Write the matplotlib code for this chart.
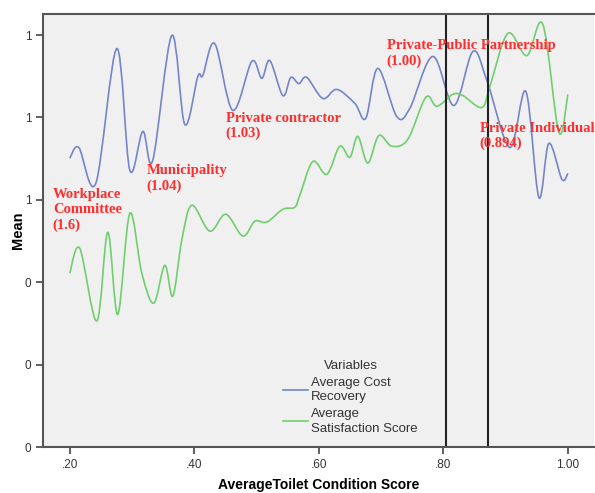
import numpy as np
import matplotlib
matplotlib.use("Agg")
import matplotlib.pyplot as plt
from matplotlib.path import Path
from matplotlib.patches import PathPatch
from matplotlib.lines import Line2D

# values (x = toilet condition score, y = mean)
cost_x = [0.200, 0.2145, 0.2418, 0.2755, 0.2964, 0.3173, 0.3333, 0.3639, 0.3847, 0.4056,
          0.4137, 0.4329, 0.4618, 0.4924, 0.5084, 0.5213, 0.5422, 0.5550, 0.5679, 0.5807,
          0.6064, 0.6289, 0.6578, 0.6755, 0.6948, 0.7253, 0.7462, 0.7831, 0.8169, 0.8474,
          0.8699, 0.9068, 0.9325, 0.9534, 0.9695, 0.9904, 1.000]
cost_y = [0.701, 0.727, 0.640, 0.967, 0.672, 0.766, 0.696, 0.999, 0.783, 0.899,
          0.902, 0.979, 0.817, 0.936, 0.895, 0.938, 0.853, 0.897, 0.882, 0.897,
          0.846, 0.868, 0.834, 0.798, 0.919, 0.802, 0.822, 0.948, 0.829, 0.960,
          0.890, 0.727, 0.863, 0.606, 0.737, 0.650, 0.664]

satis_x = [0.200, 0.2161, 0.2434, 0.2610, 0.2771, 0.2964, 0.3157, 0.3349, 0.3526, 0.3655,
           0.3799, 0.3960, 0.4249, 0.4506, 0.4779, 0.4972, 0.5165, 0.5422, 0.5614, 0.5695,
           0.5904, 0.6129, 0.6337, 0.6498, 0.6627, 0.6787, 0.6964, 0.7173, 0.7430, 0.7719,
           0.7896, 0.8153, 0.8313, 0.8618, 0.8747, 0.9036, 0.9341, 0.9598, 0.9855, 1.000]
satis_y = [0.422, 0.482, 0.306, 0.521, 0.322, 0.567, 0.422, 0.349, 0.441, 0.366,
           0.502, 0.587, 0.524, 0.565, 0.512, 0.548, 0.546, 0.577, 0.582, 0.611,
           0.693, 0.662, 0.730, 0.703, 0.754, 0.689, 0.756, 0.730, 0.747, 0.849,
           0.827, 0.856, 0.853, 0.824, 0.875, 1.004, 0.950, 1.026, 0.764, 0.856]

ref_lines = [0.804, 0.871]

annotations = [
    ("Workplace\nCommittee\n(1.6)", 0.1727, 0.628),
    ("Municipality\n(1.04)", 0.3237, 0.686),
    ("Private contractor\n(1.03)", 0.4506, 0.814),
    ("Private-Public Partnership\n(1.00)", 0.7092, 0.990),
    ("Private Individual\n(0.894)", 0.8586, 0.789),
]

x_ticks = [0.2, 0.4, 0.6, 0.8, 1.0]
y_ticks = [0.0, 0.2, 0.4, 0.6, 0.8, 1.0]


def smooth_path(xs, ys):
    """Catmull-Rom curve through the points, as cubic Bezier segments."""
    pts = np.column_stack([xs, ys])
    p = np.vstack([pts[0], pts, pts[-1]])
    verts = [pts[0]]
    codes = [Path.MOVETO]
    for i in range(1, len(p) - 2):
        c1 = p[i] + (p[i + 1] - p[i - 1]) / 6.0
        c2 = p[i + 1] - (p[i + 2] - p[i]) / 6.0
        verts += [c1, c2, p[i + 1]]
        codes += [Path.CURVE4] * 3
    return Path(verts, codes)


plt.rcParams['font.family'] = ['Liberation Sans', 'DejaVu Sans']

fig = plt.figure(figsize=(5.95, 4.93), dpi=100)
ax = fig.add_axes([43 / 595, 1 - 447 / 493, 551 / 595, 433 / 493])
ax.set_facecolor('#f0f0f0')

blue = '#7485c9'
green = '#6fcf6f'
ax.add_patch(PathPatch(smooth_path(cost_x, cost_y), fill=False, edgecolor=blue, lw=1.2))
ax.add_patch(PathPatch(smooth_path(satis_x, satis_y), fill=False, edgecolor=green, lw=1.2))

for xv in ref_lines:
    ax.axvline(xv, color='#222222', lw=1.5)

for txt, tx, ty in annotations:
    ax.text(tx, ty, txt, color='#ff2d2d', fontsize=10.5, fontweight='bold',
            family='Liberation Serif', va='top', ha='left', linespacing=1.2)

ax.set_xlim(0.157, 1.042)
ax.set_ylim(0, 1.051)
ax.set_xticks(x_ticks)
ax.set_xticklabels(['.20', '.40', '.60', '.80', '1.00'])
ax.set_yticks(y_ticks)
ax.set_yticklabels([f"{v:.0f}" for v in y_ticks])
ax.tick_params(colors='#444444', labelcolor='#333333', labelsize=8.5, length=5, width=1.2)

for s in ['left', 'bottom', 'top']:
    ax.spines[s].set_color('#555555')
    ax.spines[s].set_linewidth(1.5)
ax.spines['right'].set_visible(False)

ax.set_xlabel('AverageToilet Condition Score', fontsize=10, fontweight='bold', labelpad=5)
ax.set_ylabel('Mean', fontsize=10.5, fontweight='bold', labelpad=0)

handles = [Line2D([], [], color=blue, lw=1.2), Line2D([], [], color=green, lw=1.2)]
leg = ax.legend(handles, ['Average Cost\nRecovery', 'Average\nSatisfaction Score'],
                title='Variables', frameon=False, fontsize=9.5, title_fontsize=9.5,
                loc='upper left', bbox_to_anchor=(283 / 595, 1 - 360 / 493),
                bbox_transform=fig.transFigure, borderpad=0, borderaxespad=0,
                handlelength=1.9, handletextpad=0.25, labelspacing=0.35)
for t in leg.get_texts():
    t.set_color('#333333')
    t.set_linespacing(1.3)
leg.get_title().set_color('#333333')

fig.savefig('out.png', dpi=100)
